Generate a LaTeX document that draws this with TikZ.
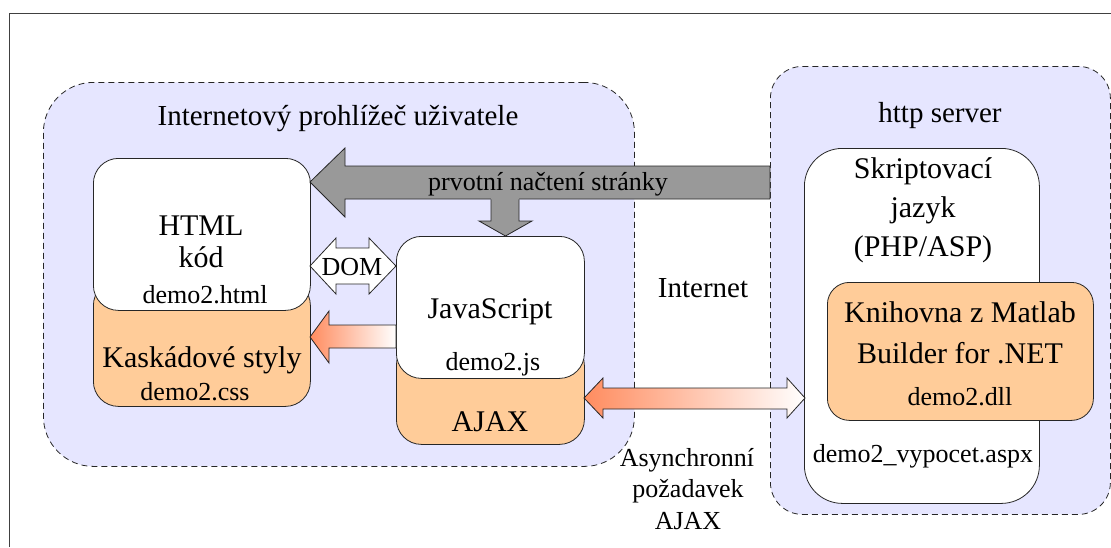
\documentclass[tikz,border=0pt]{standalone}
\usepackage{fontspec}
\setmainfont{Liberation Serif}
\definecolor{lav}{RGB}{230,230,255}
\definecolor{orng}{RGB}{255,204,153}
\definecolor{garrow}{RGB}{153,153,153}
\definecolor{hot}{RGB}{255,140,95}
\tikzset{
  frame/.style={draw=black!75, line width=0.8pt},
  zone/.style={draw=black!60, fill=lav, line width=0.8pt, dash pattern=on 6pt off 4pt},
  box/.style={draw=black!85, line width=0.8pt, inner sep=0pt, anchor=north west},
  whitebox/.style={box, fill=white},
  orangebox/.style={box, fill=orng},
  % every label is set at 10pt and enlarged as a whole
  label/.style={anchor=base, inner sep=0pt, font=\fontsize{10}{12}\selectfont, transform shape},
  bigtxt/.style={label, scale=3.0},
  midtxt/.style={label, scale=2.9},
  smalltxt/.style={label, scale=2.6},
  blockarrow/.style={draw=black!85, line width=0.8pt, line join=miter},
}
\begin{document}
\begin{tikzpicture}[x=1pt, y=-1pt]
  \useasboundingbox (0,0) rectangle (1111,547);
  % outer frame (open to the right and bottom)
  \draw[frame] (9,547) -- (9,13) -- (1111,13);

  % zones: browser and server
  \node[zone, box, minimum width=591, minimum height=384, rounded corners=50pt] (browser) at (43,82) {};
  \node[zone, box, minimum width=340, minimum height=448, rounded corners=32pt] (server) at (770,66) {};

  % HTML + CSS block
  \node[orangebox, minimum width=217, minimum height=126, rounded corners=25pt] (css) at (93,280) {};
  \node[whitebox, minimum width=217, minimum height=152, rounded corners=25pt] (html) at (93,158) {};

  % JavaScript + AJAX block
  \node[orangebox, minimum width=188, minimum height=104, rounded corners=25pt] (ajax) at (396,340) {};
  \node[whitebox, minimum width=188, minimum height=142, rounded corners=25pt] (js) at (396,236) {};

  % server side script and library
  \node[whitebox, minimum width=235, minimum height=355, rounded corners=38pt] (script) at (804,148) {};
  \node[orangebox, minimum width=266, minimum height=138, rounded corners=22pt] (lib) at (827,282) {};

  % first page load: grey block arrow from the server to the HTML code
  \draw[blockarrow, fill=garrow] (770,166) -- (345,166) -- (345,148) -- (310,182)
       -- (345,217) -- (345,199) -- (770,199) -- cycle;
  % branch down to the JavaScript block
  \fill[garrow] (491,198) -- (491,221) -- (479,221) -- (505.5,236) -- (532,221) -- (519,221) -- (519,198) -- cycle;
  \draw[blockarrow] (491,199.4) -- (491,221) -- (479,221) -- (505.5,236) -- (532,221) -- (519,221) -- (519,199.4);

  % DOM double arrow
  \draw[blockarrow, fill=white] (310,266) -- (336,238) -- (336,248) -- (369,248) -- (369,238)
       -- (396,266) -- (369,294) -- (369,284) -- (336,284) -- (336,294) -- cycle;

  % JavaScript -> styles
  \draw[blockarrow, left color=hot, right color=white] (396,325) -- (329,325) -- (329,311) -- (310,337)
       -- (329,363) -- (329,348) -- (396,348) -- cycle;

  % asynchronous AJAX request
  \draw[blockarrow, left color=hot, right color=white] (584,398) -- (603,378) -- (603,388) -- (787,388)
       -- (787,378) -- (805,398) -- (787,418) -- (787,409) -- (603,409) -- (603,418) -- cycle;

  % labels
  \node[midtxt] (tbrowser) at (338,125) {Internetový prohlížeč uživatele};
  \node[midtxt] (tserver) at (940,122) {http server};

  \node[bigtxt] (thtml) at (201,235) {HTML};
  \node[bigtxt] (tkod) at (201,267) {kód};
  \node[smalltxt] (thtmlf) at (205,303) {demo2.html};
  \node[bigtxt] (tcss) at (202,367) {Kaskádové styly};
  \node[smalltxt] (tcssf) at (195,400) {demo2.css};

  \node[bigtxt] (tjs) at (490,318) {JavaScript};
  \node[smalltxt] (tjsf) at (493,370) {demo2.js};
  \node[bigtxt] (tajax) at (490,431) {AJAX};

  \node[smalltxt] (tdom) at (352,275) {DOM};
  \node[smalltxt] (tload) at (548,190) {prvotní načtení stránky};
  \node[midtxt] (tnet) at (703,297) {Internet};

  \node[bigtxt] (ts1) at (923,178) {Skriptovací};
  \node[bigtxt] (ts2) at (923,217) {jazyk};
  \node[bigtxt] (ts3) at (923,256) {(PHP/ASP)};
  \node[bigtxt] (tl1) at (960,322) {Knihovna z Matlab};
  \node[bigtxt] (tl2) at (960,363) {Builder for .NET};
  \node[smalltxt] (tl3) at (960,405) {demo2.dll};
  \node[smalltxt] (taspx) at (923,462) {demo2\_vypocet.aspx};

  \node[smalltxt] (ta1) at (687,466) {Asynchronní};
  \node[smalltxt] (ta2) at (688,497) {požadavek};
  \node[smalltxt] (ta3) at (688,529) {AJAX};
\end{tikzpicture}
\end{document}
